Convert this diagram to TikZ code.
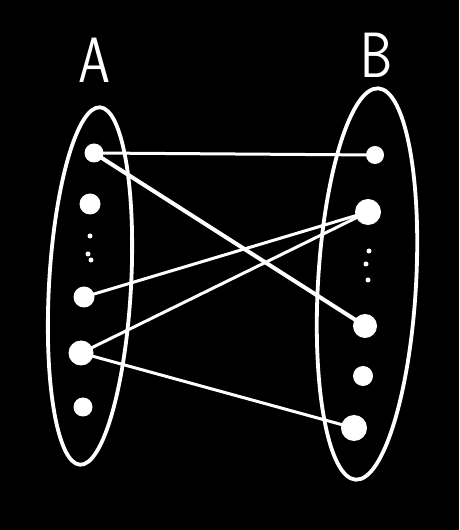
\documentclass[tikz,border=0pt]{standalone}
\usepackage{amsmath,amssymb}
\usepackage{xcolor}
\usepackage{tikz}
\usetikzlibrary{shapes.geometric}

\tikzset{
  pt/.style={circle, fill=white, inner sep=0pt, minimum size=#1},
  pt/.default=19pt,
  tiny/.style={circle, fill=white, inner sep=0pt, minimum size=5pt},
  set/.style={ellipse, draw=white, line width=3.8pt, inner sep=0pt},
  edge/.style={white, line width=3pt, line cap=round},
  setlabel/.style={white, font=\fontsize{64}{64}\selectfont\sffamily, xscale=0.8}
}

\begin{document}
\begin{tikzpicture}[x=1pt, y=1pt]
  \fill[black] (0,0) rectangle (459,530);
  \useasboundingbox (0,0) rectangle (459,530);

  % the two sets
  \node [set, minimum width=82pt, minimum height=358pt, rotate=-3.2] (setA) at (90,244) {};
  \node [set, minimum width=98pt, minimum height=392pt, rotate=-3.3] (setB) at (367,246) {};
  \node [setlabel] (labA) at (94,470) {A};
  \node [setlabel] (labB) at (377,475) {B};

  % elements of A
  \node [pt=19pt] (a1) at (94,377) {};
  \node [pt=21pt] (a2) at (90,326) {};
  \node [tiny] (adot1) at (90,294) {};
  \node [tiny] (adot2) at (88,276) {};
  \node [tiny] (adot3) at (91,270) {};
  \node [pt=21pt] (a3) at (84,233) {};
  \node [pt=25pt] (a4) at (81,177) {};
  \node [pt=19pt] (a5) at (83,123) {};

  % elements of B
  \node [pt=18pt] (b1) at (375,375) {};
  \node [pt=26pt] (b2) at (368,318) {};
  \node [tiny] (bdot1) at (369,279) {};
  \node [tiny] (bdot2) at (366,266) {};
  \node [tiny] (bdot3) at (368,250) {};
  \node [pt=24pt] (b3) at (365,204) {};
  \node [pt=20pt] (b4) at (363,154) {};
  \node [pt=26pt] (b5) at (354,102) {};

  \draw [edge] (a1.center) -- (b1.center);
  \draw [edge, line width=4pt] (a1.center) -- (b3.center);
  \draw [edge] (a3.center) -- (b2.center);
  \draw [edge] (a4.center) -- (b2.center);
  \draw [edge] (a4.center) -- (b5.center);
\end{tikzpicture}
\end{document}
